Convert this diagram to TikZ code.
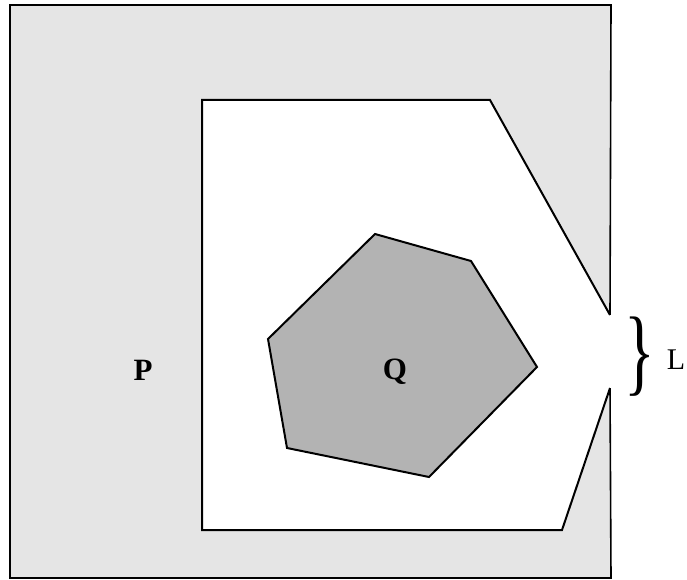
\documentclass[tikz,border=0pt]{standalone}
\usepackage{fontspec}
\setmainfont{Liberation Serif}
\begin{document}
\begin{tikzpicture}[x=1pt,y=-1pt,
  edge/.style={line width=2pt,line join=miter},
  lab/.style={font=\fontsize{31}{34}\selectfont\bfseries,inner sep=0pt}]
\useasboundingbox (0,0) rectangle (687,580);
% outer region P
\fill[fill={rgb,255:red,229;green,229;blue,229}] (10,5) rectangle (611,578);
\coordinate (gt) at (610,315);
\coordinate (gb) at (610,388);
\draw[edge,line width=1.6pt] (gt) -- (611,5) -- (10,5) -- (10,578) -- (611,578) -- (gb);
% inner white hole
\fill[white] (202,100) -- (490,100) -- (gt) -- (612,315) -- (612,388) -- (gb) -- (562,530) -- (202,530) -- cycle;
\draw[edge] (gt) -- (490,100) -- (202,100) -- (202,530) -- (562,530) -- (gb);
% hexagon Q
\draw[edge,fill={rgb,255:red,179;green,179;blue,179}]
  (375,234) -- (471,261) -- (537,367) -- (429,477) -- (287,448) -- (268,339) -- cycle;
\node[lab] (P) at (143,370) {P};
\node[lab] (Q) at (395,372) {Q};
\node[inner sep=0pt] (br) at (640,357) {\scalebox{1}[1.5]{\fontsize{64}{64}\selectfont\}}};
\node[font=\fontsize{30}{32}\selectfont,inner sep=0pt] (L) at (676,360) {L};
\end{tikzpicture}
\end{document}
